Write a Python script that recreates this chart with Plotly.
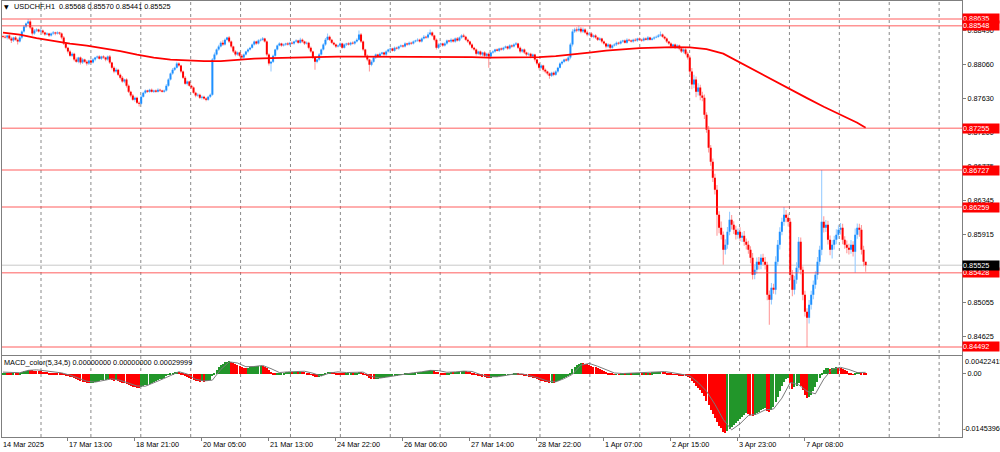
import plotly.graph_objects as go

# ---------------- canvas / layout constants ----------------
W, H = 1000, 452
ML, MR, MT, MB = 2, 38, 1, 15
PW = W - ML - MR
PH = H - MT - MB
FONT = "Liberation Sans, Arial, sans-serif"
FS = 7.3

def pxx(px):
    return (px - ML) / PW

def pxy(py):
    return 1 - (py - MT) / PH

# ---------------- data ----------------
symbol_text = "USDCHF,H1  0.85568 0.85570 0.85441 0.85525"
macd_text = "MACD_color(5,34,5) 0.00000000 0.00000000 0.00029999"

open_first = 88420  # points (1e-5)
close_pts = [
    88412, 88400, 88425, 88387, 88362, 88400, 88374, 88349, 88400, 88476,  # 0
    88539, 88577, 88602, 88526, 88450, 88488, 88501, 88476, 88488, 88463,  # 10
    88438, 88450, 88425, 88450, 88463, 88450, 88463, 88450, 88400, 88324,  # 20
    88273, 88223, 88172, 88197, 88122, 88096, 88147, 88084, 88122, 88096,  # 30
    88071, 88109, 88084, 88122, 88147, 88160, 88134, 88160, 88147, 88122,  # 40
    88160, 88084, 88020, 87970, 87995, 87932, 87894, 87844, 87869, 87793,  # 50
    87717, 87667, 87616, 87641, 87578, 87565, 87654, 87704, 87730, 87717,  # 60
    87742, 87717, 87730, 87717, 87742, 87730, 87717, 87730, 87793, 87869,  # 70
    87945, 87995, 88020, 88071, 88046, 87970, 87894, 87818, 87844, 87793,  # 80
    87768, 87704, 87667, 87679, 87641, 87654, 87629, 87616, 87654, 87679,  # 90
    88122, 88185, 88248, 88286, 88336, 88311, 88374, 88400, 88349, 88286,  # 100
    88223, 88185, 88210, 88172, 88147, 88185, 88223, 88248, 88273, 88311,  # 110
    88349, 88324, 88362, 88374, 88387, 88349, 88185, 88071, 88096, 88172,  # 120
    88248, 88299, 88324, 88299, 88311, 88324, 88311, 88336, 88324, 88349,  # 130
    88362, 88336, 88374, 88349, 88324, 88336, 88273, 88223, 88147, 88096,  # 140
    88122, 88185, 88248, 88311, 88374, 88412, 88374, 88336, 88311, 88286,  # 150
    88299, 88324, 88273, 88311, 88324, 88311, 88336, 88324, 88349, 88374,  # 160
    88438, 88349, 88248, 88172, 88122, 88058, 88096, 88147, 88185, 88160,  # 170
    88197, 88210, 88185, 88223, 88248, 88261, 88235, 88273, 88261, 88286,  # 180
    88299, 88286, 88324, 88311, 88336, 88324, 88349, 88362, 88374, 88349,  # 190
    88387, 88412, 88400, 88438, 88463, 88425, 88374, 88273, 88311, 88324,  # 200
    88299, 88324, 88362, 88349, 88374, 88349, 88387, 88362, 88400, 88425,  # 210
    88412, 88374, 88349, 88311, 88273, 88248, 88197, 88223, 88185, 88210,  # 220
    88172, 88197, 88160, 88210, 88223, 88248, 88235, 88261, 88248, 88273,  # 230
    88286, 88261, 88299, 88286, 88311, 88324, 88273, 88223, 88248, 88210,  # 240
    88185, 88197, 88160, 88185, 88122, 88071, 88020, 88046, 87995, 87970,  # 250
    87945, 87919, 87957, 87932, 87970, 88020, 88071, 88096, 88122, 88109,  # 260
    88147, 88311, 88476, 88501, 88488, 88513, 88476, 88501, 88463, 88438,  # 270
    88450, 88412, 88425, 88400, 88374, 88387, 88349, 88324, 88286, 88311,  # 280
    88273, 88299, 88311, 88336, 88324, 88349, 88362, 88336, 88374, 88362,  # 290
    88349, 88374, 88362, 88387, 88374, 88362, 88387, 88374, 88400, 88374,  # 300
    88387, 88400, 88412, 88425, 88438, 88412, 88387, 88349, 88324, 88286,  # 310
    88311, 88273, 88299, 88261, 88223, 88248, 88197, 88147, 87970, 87806,  # 320
    87869, 87717, 87768, 87667, 87641, 87426, 87237, 87009, 86832, 86630,  # 330
    86478, 86162, 85998, 85910, 85720, 85783, 85948, 86099, 86036, 85973,  # 340
    85910, 85948, 85872, 85897, 85821, 85783, 85720, 85619, 85404, 85467,  # 350
    85568, 85530, 85619, 85568, 85530, 85151, 85088, 85240, 85214, 85568,  # 360
    85783, 85948, 86074, 86162, 86124, 86074, 85404, 85214, 85341, 85492,  # 370
    85821, 85467, 85151, 84936, 84860, 85025, 85151, 85278, 85404, 85568,  # 380
    85720, 86074, 85998, 86036, 85846, 85720, 85783, 85846, 85910, 85973,  # 390
    85998, 85846, 85783, 85745, 85720, 85783, 85695, 85910, 85998, 85973,  # 400
    85720, 85568, 85525,                                                    # 410
]
upper_wick = [
    15, 22, 10, 18, 25, 12, 20, 14, 30, 18,
    20, 15, 33, 25, 12, 20, 18, 10, 22, 15,
    12, 18, 10, 15, 20, 12, 16, 10, 14, 20,
    15, 10, 22, 18, 12, 25, 10, 15, 20, 12,
    18, 12, 15, 20, 10, 14, 18, 12, 16, 10,
    14, 20, 12, 18, 25, 10, 15, 20, 12, 18,
    14, 10, 20, 15, 12, 18, 22, 12, 15, 10,
    12, 16, 10, 14, 18, 12, 10, 15, 20, 18,
    15, 20, 12, 25, 18, 10, 14, 20, 15, 12,
    10, 15, 12, 18, 10, 14, 12, 16, 10, 15,
    20, 25, 15, 22, 18, 30, 15, 12, 20, 15,
    12, 18, 15, 10, 20, 14, 12, 18, 10, 15,
    14, 12, 18, 15, 20, 12, 15, 18, 10, 14,
    12, 15, 18, 10, 14, 12, 16, 10, 14, 12,
    18, 12, 25, 14, 10, 16, 12, 15, 10, 12,
    15, 20, 14, 18, 22, 38, 15, 12, 10, 14,
    12, 15, 10, 14, 12, 18, 10, 14, 12, 16,
    50, 20, 14, 12, 15, 10, 18, 12, 15, 10,
    14, 12, 10, 16, 12, 14, 10, 15, 12, 10,
    14, 10, 16, 12, 15, 10, 14, 12, 18, 10,
    15, 20, 12, 30, 38, 15, 12, 14, 18, 10,
    12, 16, 14, 10, 18, 12, 15, 20, 14, 18,
    22, 12, 14, 10, 16, 12, 15, 10, 14, 12,
    16, 10, 14, 12, 18, 10, 15, 12, 14, 10,
    15, 12, 18, 14, 16, 20, 12, 15, 10, 14,
    12, 16, 10, 14, 12, 15, 10, 18, 12, 14,
    10, 15, 12, 14, 18, 12, 16, 14, 12, 18,
    20, 25, 30, 22, 28, 35, 20, 25, 18, 22,
    15, 20, 14, 18, 12, 16, 10, 14, 12, 18,
    12, 15, 18, 14, 10, 16, 12, 15, 18, 12,
    14, 12, 16, 10, 15, 12, 18, 14, 20, 12,
    15, 18, 14, 20, 38, 15, 12, 14, 10, 16,
    12, 15, 18, 14, 20, 15, 18, 25, 30, 45,
    60, 40, 55, 35, 50, 40, 30, 45, 35, 40,
    50, 60, 45, 80, 40, 70, 60, 101, 60, 45,
    50, 40, 55, 45, 60, 40, 50, 45, 60, 70,
    55, 60, 45, 50, 60, 40, 55, 60, 50, 70,
    60, 55, 50, 97, 60, 55, 45, 60, 50, 70,
    60, 55, 40, 50, 45, 60, 50, 55, 45, 60,
    50, 653, 70, 60, 50, 55, 60, 50, 70, 55,
    60, 50, 45, 55, 50, 60, 45, 80, 55, 50,
    60, 50, 2,
]
lower_wick = [
    20, 12, 25, 15, 30, 18, 14, 35, 12, 20,
    15, 18, 12, 20, 25, 14, 18, 12, 15, 20,
    14, 10, 18, 12, 15, 20, 12, 16, 22, 18,
    20, 25, 15, 18, 22, 14, 20, 25, 18, 15,
    25, 18, 14, 12, 20, 15, 10, 18, 14, 20,
    15, 18, 22, 20, 14, 18, 25, 15, 20, 22,
    18, 20, 15, 25, 18, 37, 15, 12, 18, 14,
    15, 12, 18, 14, 10, 16, 12, 14, 10, 15,
    12, 14, 18, 10, 15, 20, 18, 15, 22, 14,
    18, 15, 20, 14, 18, 22, 15, 20, 14, 18,
    15, 12, 10, 14, 12, 18, 10, 14, 16, 20,
    18, 22, 15, 20, 18, 14, 12, 15, 10, 12,
    10, 14, 12, 10, 15, 12, 20, 25, 101, 18,
    14, 12, 10, 16, 12, 14, 10, 15, 12, 14,
    12, 15, 10, 14, 18, 12, 20, 15, 18, 101,
    20, 15, 12, 10, 14, 12, 16, 14, 12, 18,
    12, 15, 14, 10, 16, 12, 15, 10, 14, 12,
    14, 18, 20, 15, 22, 88, 20, 15, 18, 14,
    12, 16, 14, 18, 12, 15, 10, 14, 12, 16,
    12, 14, 10, 15, 12, 14, 10, 12, 14, 10,
    12, 10, 14, 12, 10, 15, 20, 25, 18, 14,
    15, 12, 14, 10, 16, 12, 14, 10, 12, 14,
    12, 15, 18, 14, 20, 15, 22, 18, 15, 20,
    18, 25, 140, 20, 15, 14, 12, 16, 12, 14,
    10, 14, 12, 15, 10, 12, 18, 20, 15, 18,
    20, 15, 22, 18, 25, 20, 22, 18, 25, 20,
    22, 38, 18, 20, 15, 14, 12, 16, 14, 12,
    15, 20, 25, 18, 22, 15, 20, 18, 15, 20,
    18, 14, 20, 15, 18, 14, 20, 16, 22, 15,
    18, 14, 12, 16, 14, 12, 15, 10, 14, 12,
    12, 15, 10, 14, 12, 16, 10, 12, 14, 10,
    12, 14, 10, 15, 12, 14, 16, 18, 15, 20,
    15, 18, 14, 20, 18, 22, 20, 25, 40, 60,
    45, 70, 50, 60, 45, 55, 40, 60, 50, 55,
    60, 265, 70, 60, 190, 60, 50, 45, 60, 55,
    60, 50, 45, 55, 50, 60, 50, 70, 60, 55,
    50, 60, 55, 45, 60, 70, 316, 60, 50, 60,
    50, 60, 45, 50, 55, 60, 70, 80, 60, 50,
    55, 60, 70, 60, 368, 70, 60, 55, 50, 60,
    50, 70, 60, 55, 60, 70, 110, 60, 55, 50,
    60, 55, 50, 70, 60, 50, 60, 267, 50, 90,
    60, 55, 84,
]

# 200-period moving average, read every 8 bars (points)
ma_bars = [0, 8, 16, 24, 32, 40, 48, 56, 64, 72, 80, 88, 96, 104, 112, 120, 128, 136,
           144, 152, 160, 168, 176, 184, 192, 200, 208, 216, 224, 232, 240, 248, 256,
           264, 272, 280, 288, 296, 304, 312, 320, 328, 336, 344, 352, 360, 368, 376,
           384, 392, 400, 408, 412]
ma_pts = [88463, 88438, 88393, 88355, 88324, 88299, 88267, 88229, 88185, 88147, 88122,
          88109, 88103, 88103, 88122, 88134, 88141, 88147, 88153, 88153, 88160, 88160,
          88160, 88160, 88160, 88160, 88160, 88160, 88153, 88147, 88147, 88147, 88153,
          88166, 88185, 88210, 88235, 88254, 88267, 88273, 88280, 88277, 88254, 88197,
          88084, 87970, 87862, 87742, 87635, 87527, 87426, 87325, 87262]

# MACD histogram (units of 1e-5)
macd_e5 = [
    35, 41, 35, 28, 23, 30, 25, 21, 28, 46,
    69, 87, 104, 99, 92, 87, 81, 76, 69, 64,
    55, 48, 41, 37, 32, 28, 23, 18, 9, -9,
    -23, -37, -55, -64, -83, -106, -120, -147, -166, -184,
    -198, -202, -193, -189, -179, -166, -152, -138, -129, -124,
    -106, -110, -129, -143, -138, -152, -175, -198, -207, -225,
    -248, -267, -285, -294, -304, -308, -290, -271, -253, -235,
    -216, -193, -175, -156, -133, -115, -97, -74, -46, -14,
    18, 41, 55, 60, 51, 32, 9, -28, -55, -87,
    -115, -138, -156, -161, -170, -161, -166, -156, -147, -138,
    -46, 37, 106, 161, 212, 244, 276, 294, 299, 281,
    253, 230, 207, 184, 166, 152, 147, 152, 161, 175,
    184, 189, 193, 198, 193, 179, 138, 92, 60, 32,
    18, 23, 32, 37, 41, 46, 51, 55, 55, 60,
    64, 60, 64, 60, 51, 41, 28, 5, -23, -55,
    -69, -60, -37, -9, 23, 55, 64, 60, 51, 41,
    37, 37, 28, 25, 28, 30, 32, 32, 37, 41,
    60, 51, 23, -14, -46, -83, -101, -106, -101, -97,
    -92, -83, -78, -69, -60, -51, -44, -32, -23, -14,
    -5, 0, 9, 14, 23, 28, 35, 41, 48, 51,
    60, 69, 76, 87, 99, 101, 92, 64, 51, 41,
    32, 32, 37, 39, 46, 46, 53, 55, 62, 69,
    74, 69, 60, 46, 28, 9, -14, -28, -46, -55,
    -69, -74, -83, -78, -69, -60, -53, -44, -37, -28,
    -18, -14, -5, 2, 9, 18, 14, -5, -14, -28,
    -41, -51, -64, -74, -87, -106, -129, -143, -156, -170,
    -184, -193, -189, -189, -179, -156, -129, -101, -74, -55,
    -32, 37, 115, 175, 216, 248, 258, 253, 244, 230,
    216, 198, 179, 161, 138, 120, 97, 74, 51, 37,
    18, 9, 5, 7, 5, 9, 14, 12, 18, 21,
    18, 23, 25, 30, 32, 32, 37, 37, 41, 41,
    44, 46, 48, 53, 58, 55, 48, 37, 23, 14,
    5, -5, -9, -18, -28, -32, -41, -55, -92, -152,
    -198, -262, -313, -368, -423, -506, -607, -713, -819, -920,
    -1007, -1095, -1178, -1242, -1320, -1348, -1306, -1251, -1210, -1164,
    -1122, -1072, -1030, -975, -925, -892, -911, -929, -948, -934,
    -892, -856, -823, -796, -782, -833, -874, -819, -759, -644,
    -520, -386, -267, -170, -106, -74, -198, -327, -299, -267,
    -207, -271, -359, -469, -547, -529, -465, -382, -285, -179,
    -83, 37, 97, 138, 147, 129, 138, 152, 161, 156,
    143, 124, 97, 69, 41, 23, 5, 14, 46, 60,
    37, 18, 14,
]
# MACD signal line, read every 4 bars (units of 1e-5)
signal_e5 = [
    40, 30, 26, 80, 92, 70, 40, 22, -30, -100,
    -170, -190, -150, -115, -150, -215, -280, -285, -210, -125,
    -40, 50, -5, -125, -163, -145, 100, 275, 250, 165,
    170, 193, 120, 30, 45, 57, 60, 15, -50, 20,
    45, 30, 33, 40, -60, -98, -70, -33, -5, 25,
    48, 80, 75, 36, 45, 63, 55, -15, -65, -68,
    -38, -3, 0, -45, -100, -165, -185, -110, -10, 200,
    240, 175, 90, 20, 8, 18, 29, 37, 46, 53,
    25, -15, -45, -200, -400, -700, -1050, -1290, -1150, -960,
    -925, -830, -810, -560, -200, -250, -400, -460, -120, 110,
    150, 100, 30, 35,
]
signal_bars = [4 * k for k in range(len(signal_e5))]

levels = [0.88635, 0.88548, 0.87255, 0.86727, 0.86259, 0.85428, 0.84492]
last_price = 0.85525

price_ticks = [0.84625, 0.85055, 0.85485, 0.85915, 0.86345, 0.86775, 0.87200,
               0.87630, 0.88060, 0.88490]
price_tick_text = ["0.84625", "0.85055", "0.85485", "0.85915", "0.86345", "0.86775",
                   "0.87200", "0.87630", "0.88060", "0.88490"]
macd_max_text = "0.00422415"
macd_min_text = "-0.01453960"
macd_max = 0.0042241
macd_min = -0.0145396

time_bars = [31, 63, 95, 127, 159, 191, 223, 255, 287, 319, 351, 383]
time_labels = ["17 Mar 13:00", "18 Mar 21:00", "20 Mar 05:00", "21 Mar 13:00",
               "24 Mar 22:00", "26 Mar 06:00", "27 Mar 14:00", "28 Mar 22:00",
               "1 Apr 07:00", "2 Apr 15:00", "3 Apr 23:00", "7 Apr 08:00"]
first_label = "14 Mar 2025"

# ---------------- derived series ----------------
n = min(len(close_pts), len(upper_wick), len(lower_wick))
closes = [c / 1e5 for c in close_pts[:n]]
opens = [open_first / 1e5] + closes[:-1]
highs = [max(opens[i], closes[i]) + upper_wick[i] / 1e5 for i in range(n)]
lows = [min(opens[i], closes[i]) - lower_wick[i] / 1e5 for i in range(n)]

def segs(idx, a, b):
    xs, ys = [], []
    for i in idx:
        xs += [i, i, None]
        ys += [a[i], b[i], None]
    return xs, ys

up = [i for i in range(n) if closes[i] >= opens[i]]
dn = [i for i in range(n) if closes[i] < opens[i]]

RED, RED_W = "#FF0000", "#FF9C9C"
BLUE, BLUE_W = "#1E90FF", "#9ACDFF"

fig = go.Figure()
for idx, wc in ((up, BLUE_W), (dn, RED_W)):
    xs, ys = segs(idx, lows, highs)
    fig.add_trace(go.Scatter(x=xs, y=ys, mode="lines", line=dict(color=wc, width=1.1),
                             hoverinfo="skip", xaxis="x", yaxis="y"))
for idx, bc in ((up, BLUE), (dn, RED)):
    xs, ys = segs(idx, opens, closes)
    fig.add_trace(go.Scatter(x=xs, y=ys, mode="lines", line=dict(color=bc, width=2.0),
                             hoverinfo="skip", xaxis="x", yaxis="y"))

fig.add_trace(go.Scatter(x=ma_bars, y=[v / 1e5 for v in ma_pts], mode="lines",
                         line=dict(color="#FF0000", width=1.8), xaxis="x", yaxis="y"))

macd = [v / 1e5 for v in macd_e5]
mcol = ["#22962A" if (i == 0 or macd[i] > macd[i - 1]) else "#FF0000" for i in range(len(macd))]
fig.add_trace(go.Bar(x=list(range(len(macd))), y=macd, marker=dict(color=mcol, line=dict(width=0)),
                     width=0.5, xaxis="x2", yaxis="y2"))
fig.add_trace(go.Scatter(x=signal_bars, y=[v / 1e5 for v in signal_e5], mode="lines",
                         line=dict(color="#7A7A7A", width=1), xaxis="x2", yaxis="y2"))

# ---------------- axes ----------------
bar_px = 2.0938
x_range = [(ML - 3) / bar_px, (ML + PW - 3) / bar_px]
main_top_px, main_bot_px = MT, 354.5
macd_top_px, macd_bot_px = 355.5, H - MB
main_dom = [pxy(main_bot_px), 1]
macd_dom = [0, pxy(macd_top_px)]
y_range = [0.84397, 0.88862]

FRAME = "#7F7F7F"
axis_font = dict(family=FONT, size=FS, color="#000000")

fig.update_layout(
    width=W, height=H, margin=dict(l=ML, r=MR, t=MT, b=MB, autoexpand=False),
    paper_bgcolor="white", plot_bgcolor="white", showlegend=False, bargap=0,
    xaxis=dict(domain=[0, 1], range=x_range, anchor="y", showticklabels=False,
               showgrid=False, zeroline=False, showline=True, mirror=True,
               linecolor=FRAME, linewidth=1, ticks=""),
    xaxis2=dict(domain=[0, 1], range=x_range, anchor="y2", matches="x",
                showticklabels=False, showgrid=False, zeroline=False, showline=True,
                mirror=True, linecolor=FRAME, linewidth=1, ticks="outside", ticklen=3,
                tickcolor=FRAME, tickmode="array", tickvals=time_bars),
    yaxis=dict(domain=main_dom, range=y_range, side="right", anchor="x",
               showgrid=False, zeroline=False, showline=True, mirror=True,
               linecolor=FRAME, linewidth=1, ticks="outside", ticklen=3,
               tickcolor=FRAME, tickmode="array", tickvals=price_ticks,
               ticktext=price_tick_text, tickfont=axis_font),
    yaxis2=dict(domain=macd_dom, range=[macd_min, macd_max], side="right", anchor="x2",
                showgrid=False, zeroline=False, showline=True, mirror=True,
                linecolor=FRAME, linewidth=1, ticks="outside", ticklen=3,
                tickcolor=FRAME, tickmode="array", tickvals=[0], ticktext=["0.00"],
                tickfont=axis_font),
)

shapes = []
# vertical dotted grid (pixel spaced like the terminal)
g = 18.15
while g < x_range[1]:
    shapes.append(dict(type="line", xref="x", yref="paper", x0=g, x1=g, y0=0, y1=1,
                       line=dict(color="#8A8A8A", width=1, dash="dot"), layer="below"))
    g += 23.83
# bid line
shapes.append(dict(type="line", xref="paper", yref="y", x0=0, x1=1, y0=last_price,
                   y1=last_price, line=dict(color="#C8C8C8", width=1), layer="below"))
for lv in levels:
    shapes.append(dict(type="line", xref="paper", yref="y", x0=0, x1=1, y0=lv, y1=lv,
                       line=dict(color="rgba(255,60,60,0.55)", width=1.5), layer="above"))
fig.update_layout(shapes=shapes)

ann = []
for lv in levels:
    ann.append(dict(xref="paper", yref="y", x=1, y=lv, xanchor="left", yanchor="middle",
                    text=f"{lv:.5f}", showarrow=False, bgcolor="#FF0000",
                    font=dict(family=FONT, size=FS, color="white"), borderpad=0,
                    width=36, height=9, align="left"))
ann.append(dict(xref="paper", yref="y", x=1, y=last_price, xanchor="left", yanchor="middle",
                text=f"{last_price:.5f}", showarrow=False, bgcolor="#000000",
                font=dict(family=FONT, size=FS, color="white"), borderpad=0,
                width=36, height=9, align="left"))
# MACD range labels
ann.append(dict(xref="paper", yref="paper", x=pxx(964), y=pxy(361.7), xanchor="left",
                yanchor="middle", text=macd_max_text, showarrow=False,
                font=axis_font, borderpad=0))
ann.append(dict(xref="paper", yref="paper", x=pxx(962), y=pxy(428.7), xanchor="left",
                yanchor="middle", text=macd_min_text, showarrow=False,
                font=axis_font, borderpad=0))
# header texts
ann.append(dict(xref="paper", yref="paper", x=pxx(3), y=pxy(6.5), xanchor="left",
                yanchor="middle", text="▼", showarrow=False,
                font=dict(family="DejaVu Sans", size=6, color="#000"), borderpad=0))
ann.append(dict(xref="paper", yref="paper", x=pxx(13), y=pxy(6.5), xanchor="left",
                yanchor="middle", text=symbol_text, showarrow=False,
                font=axis_font, borderpad=0))
ann.append(dict(xref="paper", yref="paper", x=pxx(3), y=pxy(362.5), xanchor="left",
                yanchor="middle", text=macd_text, showarrow=False,
                font=axis_font, borderpad=0))
# time labels
ann.append(dict(xref="paper", yref="paper", x=pxx(2), y=pxy(444.5), xanchor="left",
                yanchor="middle", text=first_label, showarrow=False, font=axis_font,
                borderpad=0))
for b, t in zip(time_bars, time_labels):
    ann.append(dict(xref="x", yref="paper", x=b, y=pxy(444.5), xanchor="left",
                    yanchor="middle", text=t, showarrow=False, font=axis_font,
                    borderpad=0))
fig.update_layout(annotations=ann)

fig.write_html(
    "out.html",
    config={"displayModeBar": False},
    post_script="document.body.style.margin='0';document.body.style.padding='0';"
                "document.body.style.overflow='hidden';",
)
